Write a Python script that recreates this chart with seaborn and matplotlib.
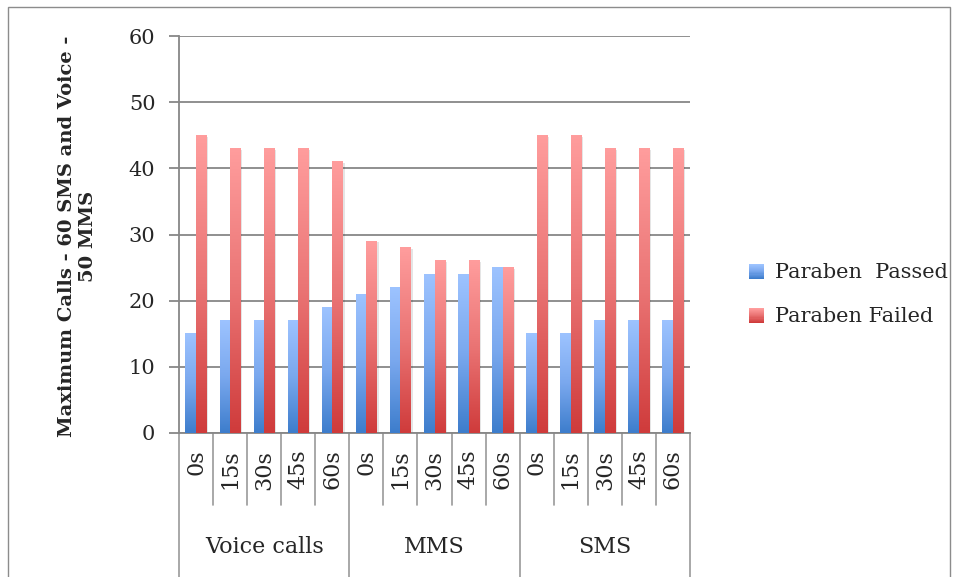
import numpy as np
import pandas as pd
import seaborn as sns
from matplotlib import pyplot as plt
from matplotlib.patches import Rectangle
from matplotlib.colors import LinearSegmentedColormap
from matplotlib.legend_handler import HandlerBase
from matplotlib.transforms import blended_transform_factory

# data
groups = ["Voice calls", "MMS", "SMS"]
delays = ["0s", "15s", "30s", "45s", "60s"]
series = ["Paraben  Passed", "Paraben Failed"]
passed = [15, 17, 17, 17, 19, 21, 22, 24, 24, 25, 15, 15, 17, 17, 17]
failed = [45, 43, 43, 43, 41, 29, 28, 26, 26, 25, 45, 45, 43, 43, 43]

slots = [f"{g}|{d}" for g in groups for d in delays]
df = pd.DataFrame({
    "slot": slots * 2,
    "status": [series[0]] * len(slots) + [series[1]] * len(slots),
    "value": passed + failed,
})

# gradient colours (dark bottom -> light top), Excel style
blue_cmap = LinearSegmentedColormap.from_list("blue", ["#3d7dcc", "#7aa8ee", "#9dc3ff"])
red_cmap = LinearSegmentedColormap.from_list("red", ["#cf3b3b", "#ea7474", "#ff9d9d"])
cmaps = {series[0]: blue_cmap, series[1]: red_cmap}
palette = {series[0]: "#6e9be0", series[1]: "#e56666"}


class GradientHandler(HandlerBase):
    def __init__(self, cmap, steps=14):
        super().__init__()
        self.cmap = cmap
        self.steps = steps

    def create_artists(self, legend, orig_handle, xdescent, ydescent,
                       width, height, fontsize, trans):
        out = []
        for k in range(self.steps):
            out.append(Rectangle((-xdescent, -ydescent + height * k / self.steps),
                                 width, height / self.steps * 1.05,
                                 facecolor=self.cmap(k / (self.steps - 1)),
                                 edgecolor="none", transform=trans))
        return out


sns.set_style("white")
plt.rcParams["font.family"] = ["DejaVu Serif", "DejaVu Sans"]

fig = plt.figure(figsize=(9.58, 5.77), dpi=100)
ax = fig.add_axes([179 / 958, 144 / 577, 511 / 958, 397 / 577])

sns.barplot(data=df, x="slot", y="value", hue="status", order=slots,
            hue_order=series, palette=palette, width=0.62, gap=0,
            saturation=1, legend=False, ax=ax)

# replace flat bars with vertical gradients
grad = np.linspace(0, 1, 256).reshape(-1, 1)
bars = [p for p in ax.patches if p.get_height() > 0]
for i, p in enumerate(bars):
    name = series[0] if i < len(slots) else series[1]
    x, w, h = p.get_x(), p.get_width(), p.get_height()
    ax.add_patch(Rectangle((x + 0.05, 0), w, h - 0.2, facecolor="black",
                           alpha=0.10, edgecolor="none", zorder=2))
    ax.imshow(grad, extent=[x, x + w, 0, h], origin="lower", cmap=cmaps[name],
              aspect="auto", zorder=3, interpolation="bilinear")
    p.set_visible(False)

ax.set_xlim(-0.5, len(slots) - 0.5)
ax.set_ylim(0, 60)
ax.set_yticks(range(0, 61, 10))
ax.yaxis.grid(True, color="#878787", linewidth=1.3)
ax.set_axisbelow(True)
for s in ["top", "right"]:
    ax.spines[s].set_visible(False)
for s in ["left", "bottom"]:
    ax.spines[s].set_color("#878787")
    ax.spines[s].set_linewidth(1.3)
ax.tick_params(axis="y", left=True, length=7, width=1.3, color="#878787",
               pad=10, labelsize=15)
ax.set_xticks(range(len(slots)))
ax.set_xticklabels(delays * len(groups), rotation=90, fontsize=16)
ax.tick_params(axis="x", bottom=False, length=0, pad=12)
ax.set_xlabel("")

ax.set_ylabel("Maximum Calls - 60 SMS and Voice -\n50 MMS", fontsize=14,
              fontweight="bold")
ax.yaxis.set_label_coords(-0.16, 0.495)

# multi-level category axis
trans = blended_transform_factory(ax.transData, ax.transAxes)
for k in range(len(slots) + 1):
    low = -0.37 if k % len(delays) == 0 else -0.182
    ax.plot([k - 0.5, k - 0.5], [0, low], transform=trans, color="#9a9a9a",
            linewidth=1.2, clip_on=False)
for j, g in enumerate(groups):
    ax.text(j * len(delays) + 2, -0.287, g, transform=trans, ha="center",
            va="center", fontsize=16)

handles = [Rectangle((0, 0), 1, 1) for _ in series]
fig.legend(handles, series, loc="center left",
           bbox_to_anchor=(730 / 958, 1 - 295 / 577), frameon=False,
           fontsize=15, handlelength=0.75, handleheight=0.75,
           handletextpad=0.5, labelspacing=1.2,
           handler_map={h: GradientHandler(cmaps[s]) for h, s in zip(handles, series)})

fig.add_artist(Rectangle((8 / 958, -0.02), 942 / 958, 1 - 7 / 577 + 0.02,
                         transform=fig.transFigure, fill=False,
                         edgecolor="#8c8c8c", linewidth=1))

fig.savefig("out.png", dpi=100)
